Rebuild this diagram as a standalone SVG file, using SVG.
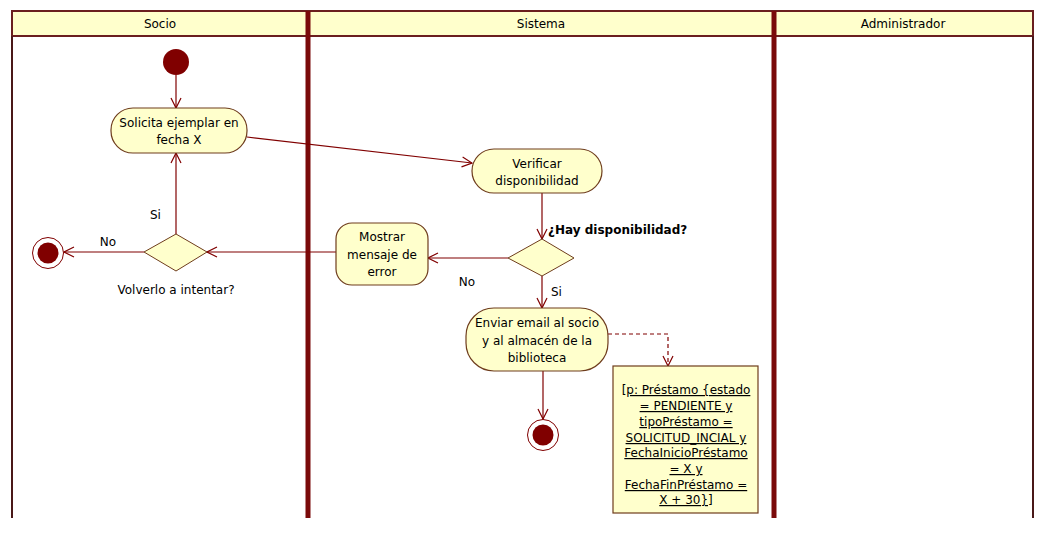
<svg xmlns="http://www.w3.org/2000/svg" width="1054" height="534" viewBox="0 0 1054 534">
<style>
text{font-family:"DejaVu Sans","Liberation Sans",sans-serif;font-size:12px;fill:#000}
.c{text-anchor:middle}
.act{fill:#FFFFCC;stroke:#6e3c1c;stroke-width:1.2}
.dec{fill:#FFFFCC;stroke:#6e3c1c;stroke-width:1}
.edge{fill:none;stroke:#800000;stroke-width:1.2}
.dash{fill:none;stroke:#800000;stroke-width:1.2;stroke-dasharray:4,3}
.u{text-decoration:underline}
</style>
<defs>
<marker id="arr" viewBox="0 0 12 12" refX="11" refY="6" markerWidth="12" markerHeight="12" markerUnits="userSpaceOnUse" orient="auto">
<path d="M1,1 L11,6 L1,11" fill="none" stroke="#800000" stroke-width="1.2"/>
</marker>
</defs>
<rect width="1054" height="534" fill="#fff"/>
<g id="lanes">
<rect x="12" y="11" width="1021" height="25" fill="#FFFFCC" stroke="#6b1f1f" stroke-width="2"/>
<line x1="12" y1="36" x2="12" y2="518" stroke="#4a1818" stroke-width="2"/>
<line x1="1033" y1="36" x2="1033" y2="518" stroke="#4a1818" stroke-width="2"/>
<line x1="308" y1="11" x2="308" y2="518" stroke="#7a0a0a" stroke-width="5"/>
<line x1="774" y1="11" x2="774" y2="518" stroke="#7a0a0a" stroke-width="5"/>
<text class="c" x="160" y="28">Socio</text>
<text class="c" x="541" y="28">Sistema</text>
<text class="c" x="903" y="28">Administrador</text>
</g>
<g id="connectors">
<line class="edge" x1="176" y1="75" x2="176" y2="108" marker-end="url(#arr)"/>
<line class="edge" x1="247" y1="137" x2="472" y2="163" marker-end="url(#arr)"/>
<line class="edge" x1="542" y1="193" x2="542" y2="239" marker-end="url(#arr)"/>
<line class="edge" x1="508" y1="258" x2="428" y2="258" marker-end="url(#arr)"/>
<line class="edge" x1="542" y1="276" x2="542" y2="308" marker-end="url(#arr)"/>
<line class="edge" x1="336" y1="252" x2="207" y2="252" marker-end="url(#arr)"/>
<line class="edge" x1="176" y1="234" x2="176" y2="153" marker-end="url(#arr)"/>
<line class="edge" x1="144" y1="252" x2="64" y2="252" marker-end="url(#arr)"/>
<line class="edge" x1="543" y1="371" x2="543" y2="419" marker-end="url(#arr)"/>
<polyline class="dash" points="608,334 668,334 668,366" marker-end="url(#arr)"/>
<text x="150" y="219">Si</text>
<text class="c" x="108" y="246">No</text>
<text class="c" x="467" y="286">No</text>
<text x="551" y="296">Si</text>
<text x="548" y="234" style="font-weight:bold">¿Hay disponibilidad?</text>
</g>
<g id="start"><circle cx="176" cy="62" r="13" fill="#800000"/></g>
<g id="solicita">
<rect class="act" x="111" y="108" width="136" height="45" rx="22" ry="22"/>
<text class="c" x="179" y="127">Solicita ejemplar en</text>
<text class="c" x="179" y="144">fecha X</text>
</g>
<g id="decision-reintentar">
<polygon class="dec" points="144,252 176,234 207,252 176,271"/>
<text class="c" x="176" y="294">Volverlo a intentar?</text>
</g>
<g id="final-socio">
<circle cx="48" cy="253" r="15.5" fill="#fff" stroke="#800000" stroke-width="1"/>
<circle cx="48" cy="253" r="10.5" fill="#800000"/>
</g>
<g id="verificar">
<rect class="act" x="472" y="149" width="130" height="44" rx="22" ry="22"/>
<text class="c" x="537" y="168">Verificar</text>
<text class="c" x="537" y="185">disponibilidad</text>
</g>
<g id="decision-disponibilidad">
<polygon class="dec" points="508,258 542,239 574,258 542,276"/>
</g>
<g id="mostrar">
<rect class="act" x="336" y="223" width="92" height="62" rx="16" ry="16"/>
<text class="c" x="382" y="241">Mostrar</text>
<text class="c" x="382" y="259">mensaje de</text>
<text class="c" x="382" y="276">error</text>
</g>
<g id="enviar">
<rect class="act" x="466" y="308" width="142" height="63" rx="28" ry="28"/>
<text class="c" x="537" y="327">Enviar email al socio</text>
<text class="c" x="537" y="345">y al almacén de la</text>
<text class="c" x="537" y="362">biblioteca</text>
</g>
<g id="final-sistema">
<circle cx="543" cy="435" r="15.5" fill="#fff" stroke="#800000" stroke-width="1"/>
<circle cx="543" cy="435" r="10.5" fill="#800000"/>
</g>
<g id="objeto-prestamo">
<rect x="613" y="366" width="145" height="147" fill="#FFFFCC" stroke="#6e3c1c" stroke-width="1.2"/>
<text class="c u" x="686" y="394">[p: Préstamo {estado</text>
<text class="c u" x="686" y="410">= PENDIENTE y</text>
<text class="c u" x="686" y="426">tipoPréstamo =</text>
<text class="c u" x="686" y="442">SOLICITUD_INCIAL y</text>
<text class="c u" x="686" y="457">FechaInicioPréstamo</text>
<text class="c u" x="686" y="473">= X y</text>
<text class="c u" x="686" y="489">FechaFinPréstamo =</text>
<text class="c u" x="686" y="504">X + 30}]</text>
</g>
</svg>
